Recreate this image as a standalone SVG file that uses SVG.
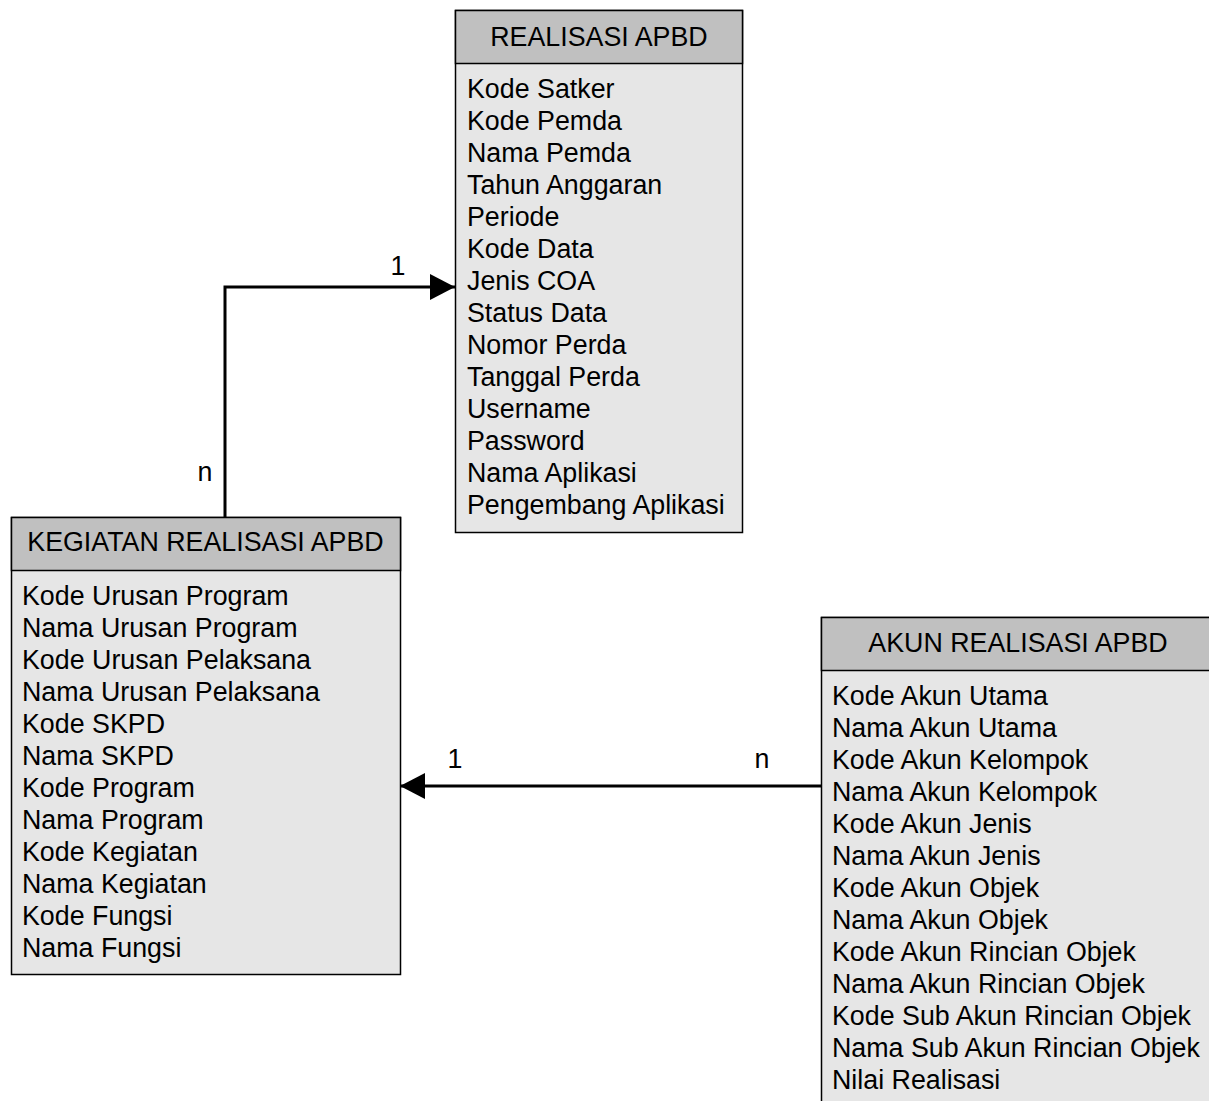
<svg xmlns="http://www.w3.org/2000/svg" width="1209" height="1101" viewBox="0 0 1209 1101">
<style>
.hdr{fill:#c0c0c0;stroke:#000;stroke-width:1.5}
.bdy{fill:#e6e6e6;stroke:#000;stroke-width:1.5}
text{font-family:"Liberation Sans",Arial,sans-serif;font-size:26.8px;fill:#000}
.c{text-anchor:middle}
.ln{fill:none;stroke:#000;stroke-width:3}
</style>
<defs>
<marker id="arr" markerUnits="userSpaceOnUse" markerWidth="26" markerHeight="26" refX="25" refY="13" orient="auto">
<path d="M0,0 L25,13 L0,26 Z" fill="#000"/>
</marker>
</defs>
<rect width="1209" height="1101" fill="#fff"/>
<g id="connectors">
<path class="ln" d="M225,517 V287 H455" marker-end="url(#arr)"/>
<text x="398" y="275" class="c">1</text>
<text x="205" y="481" class="c">n</text>
<path class="ln" d="M821,786 H400" marker-end="url(#arr)"/>
<text x="455" y="768" class="c">1</text>
<text x="762" y="768" class="c">n</text>
</g>
<g id="realisasi-apbd">
<rect class="bdy" x="455.5" y="10.5" width="287" height="522"/>
<rect class="hdr" x="455.5" y="10.5" width="287" height="53"/>
<text x="599" y="46" class="c">REALISASI APBD</text>
<text x="467" y="98">Kode Satker</text>
<text x="467" y="130">Kode Pemda</text>
<text x="467" y="162">Nama Pemda</text>
<text x="467" y="194">Tahun Anggaran</text>
<text x="467" y="226">Periode</text>
<text x="467" y="258">Kode Data</text>
<text x="467" y="290">Jenis COA</text>
<text x="467" y="322">Status Data</text>
<text x="467" y="354">Nomor Perda</text>
<text x="467" y="386">Tanggal Perda</text>
<text x="467" y="418">Username</text>
<text x="467" y="450">Password</text>
<text x="467" y="482">Nama Aplikasi</text>
<text x="467" y="514">Pengembang Aplikasi</text>
</g>
<g id="kegiatan-realisasi-apbd">
<rect class="bdy" x="11.5" y="517.5" width="389" height="457"/>
<rect class="hdr" x="11.5" y="517.5" width="389" height="53"/>
<text x="205.5" y="551" class="c">KEGIATAN REALISASI APBD</text>
<text x="22" y="605">Kode Urusan Program</text>
<text x="22" y="637">Nama Urusan Program</text>
<text x="22" y="669">Kode Urusan Pelaksana</text>
<text x="22" y="701">Nama Urusan Pelaksana</text>
<text x="22" y="733">Kode SKPD</text>
<text x="22" y="765">Nama SKPD</text>
<text x="22" y="797">Kode Program</text>
<text x="22" y="829">Nama Program</text>
<text x="22" y="861">Kode Kegiatan</text>
<text x="22" y="893">Nama Kegiatan</text>
<text x="22" y="925">Kode Fungsi</text>
<text x="22" y="957">Nama Fungsi</text>
</g>
<g id="akun-realisasi-apbd">
<rect class="bdy" x="821.5" y="617.5" width="400" height="500"/>
<rect class="hdr" x="821.5" y="617.5" width="400" height="53"/>
<text x="1018" y="652" class="c">AKUN REALISASI APBD</text>
<text x="832" y="705">Kode Akun Utama</text>
<text x="832" y="737">Nama Akun Utama</text>
<text x="832" y="769">Kode Akun Kelompok</text>
<text x="832" y="801">Nama Akun Kelompok</text>
<text x="832" y="833">Kode Akun Jenis</text>
<text x="832" y="865">Nama Akun Jenis</text>
<text x="832" y="897">Kode Akun Objek</text>
<text x="832" y="929">Nama Akun Objek</text>
<text x="832" y="961">Kode Akun Rincian Objek</text>
<text x="832" y="993">Nama Akun Rincian Objek</text>
<text x="832" y="1025">Kode Sub Akun Rincian Objek</text>
<text x="832" y="1057">Nama Sub Akun Rincian Objek</text>
<text x="832" y="1089">Nilai Realisasi</text>
</g>
</svg>
